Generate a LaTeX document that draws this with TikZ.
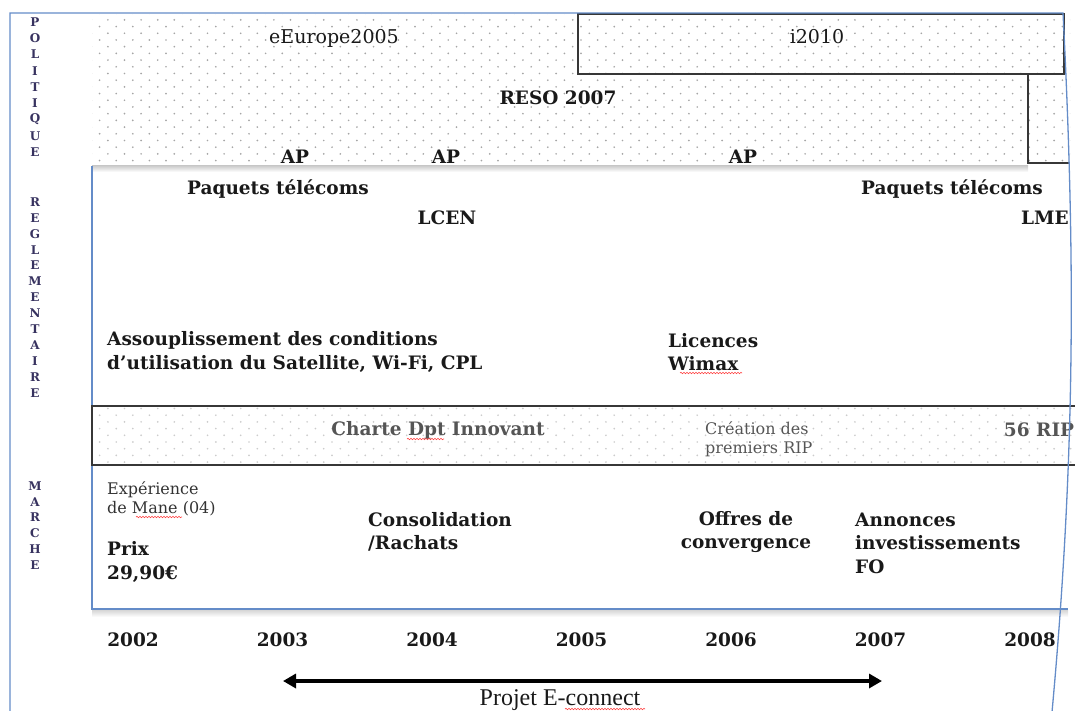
\documentclass[tikz,border=0pt]{standalone}
\usepackage{fontspec}
\setmainfont{DejaVu Serif}
\newfontfamily\projfont{Liberation Serif}
\usetikzlibrary{patterns,arrows.meta,decorations.pathmorphing}

\definecolor{frameblue}{RGB}{100,140,200}
\definecolor{boxgray}{RGB}{55,55,55}
\definecolor{sidenavy}{RGB}{55,50,95}
\definecolor{textdark}{RGB}{25,25,25}
\definecolor{bandtext}{RGB}{85,85,85}

\pgfdeclarepatternformonly{sparsedots}{\pgfqpoint{-1.5pt}{-1.5pt}}{\pgfqpoint{18.1pt}{14.9pt}}{\pgfqpoint{16.6pt}{13.4pt}}{%
  \pgfpathcircle{\pgfqpoint{0pt}{0pt}}{0.95pt}%
  \pgfpathcircle{\pgfqpoint{8.3pt}{6.7pt}}{0.95pt}%
  \pgfusepath{fill}}

\tikzset{
  lbl/.style={text=textdark, font=\bfseries\fontsize{18.5}{23.5}\selectfont, inner sep=0pt},
  leftlbl/.style={lbl, align=left, anchor=west},
  plainlbl/.style={lbl, font=\fontsize{19}{23}\selectfont},
  bandlbl/.style={lbl, text=bandtext},
  smalllbl/.style={inner sep=0pt, align=left, anchor=west, text=bandtext, font=\fontsize{16}{19}\selectfont},
  side/.style={text=sidenavy, font=\bfseries\fontsize{12}{12}\selectfont, inner sep=0pt},
  dotfill/.style={pattern=sparsedots, pattern color=gray!70},
  boxline/.style={draw=boxgray, line width=1.5pt},
  bandline/.style={draw=boxgray, line width=2pt},
  frame/.style={draw=frameblue, line width=1.3pt},
  squiggle/.style={red!75, line width=0.6pt, decorate, decoration={snake, amplitude=0.7pt, segment length=3pt}},
  biarrow/.style={line width=3.5pt, {Triangle[length=13pt,width=14pt]}-{Triangle[length=13pt,width=14pt]}}
}

\begin{document}
\begin{tikzpicture}[x=1pt,y=-1pt]
	\path[use as bounding box] (0,0) rectangle (1075,710);
	\clip (0,0) rectangle (1075,710);
	% politique
	\fill[dotfill] (92,14) rectangle (1070,165);
	\shade[top color=gray!45,bottom color=white] (92,165) rectangle (1028,172);
	\draw[boxline] (578,14) rectangle (1064,74);
	\draw[boxline] (1028,74) -- (1028,163) -- (1070,163);
	\node[plainlbl] (eeurope) at (334,38) {eEurope2005};
	\node[plainlbl] (itwenty) at (817,37) {i2010};
	\node[lbl] (reso) at (558,98) {RESO 2007};
	\node[lbl] (ap1) at (295,157) {AP};
	\node[lbl] (ap2) at (446,157) {AP};
	\node[lbl] (ap3) at (743,157) {AP};
	% reglementaire et marche
	\draw[frame] (92,166) -- (92,609) -- (1068,609);
	\shade[top color=gray!30,bottom color=white] (92,610.5) rectangle (1068,617);
	\node[lbl] (paquets1) at (278,189) {Paquets télécoms};
	\node[lbl] (paquets2) at (952,189) {Paquets télécoms};
	\node[lbl] (lcen) at (447,218) {LCEN};
	\node[lbl] (lme) at (1045,218) {LME};
	\node[leftlbl] (assoup) at (107,352) {Assouplissement des conditions\\d’utilisation du Satellite, Wi-Fi, CPL};
	\node[leftlbl] (licences) at (668,352) {Licences\\Wimax};
	\draw[squiggle] (680,373) -- (742,373);
	\fill[dotfill, pattern color=gray!40] (92,406) rectangle (1075,465);
	\draw[bandline] (1075,406) -- (92,406) -- (92,465) -- (1075,465);
	\node[bandlbl] (charte) at (438,430) {Charte Dpt Innovant};
	\draw[squiggle] (407,439) -- (444,439);
	\node[smalllbl] (creation) at (705,439) {Création des\\premiers RIP};
	\node[bandlbl] (rip) at (1039,430) {56 RIP};
	\node[smalllbl, text=black!80] (mane) at (107,499) {Expérience\\de Mane (04)};
	\draw[squiggle] (136,517) -- (182,517);
	\node[leftlbl] (prix) at (107,562) {Prix\\29,90€};
	\node[leftlbl] (conso) at (368,532) {Consolidation\\/Rachats};
	\node[lbl, align=center] (offres) at (746,532) {Offres de\\convergence};
	\node[leftlbl] (annonces) at (855,543) {Annonces\\investissements\\FO};
	% cadre
	\draw[frame] (10,712) -- (10,13) -- (1063,13) .. controls (1075,250) and (1076,450) .. (1052,712);
	% cote gauche
	\foreach \c [count=\i from 0] in {P,O,L,I,T,I,Q,U,E}
		\node[side] (pol\i) at (35,{22+16.25*\i}) {\c};
	\foreach \c [count=\i from 0] in {R,E,G,L,E,M,E,N,T,A,I,R,E}
		\node[side] (reg\i) at (35,{202+15.9*\i}) {\c};
	\foreach \c [count=\i from 0] in {M,A,R,C,H,E}
		\node[side] (mar\i) at (35,{486+15.8*\i}) {\c};
	% annees
	\foreach \yr [count=\i from 0] in {2002,2003,2004,2005,2006,2007,2008}
		\node[lbl] (y\yr) at ({133+149.5*\i},640) {\yr};
	\coordinate (econL) at (283,681);
	\coordinate (econR) at (882,681);
	\draw[biarrow] (econL) -- (econR);
	\node[text=textdark, inner sep=0pt, font=\projfont\fontsize{24}{24}\selectfont] (econnect) at (560,700) {Projet E-connect};
	\draw[squiggle] (565,709) -- (645,709);
\end{tikzpicture}
\end{document}
